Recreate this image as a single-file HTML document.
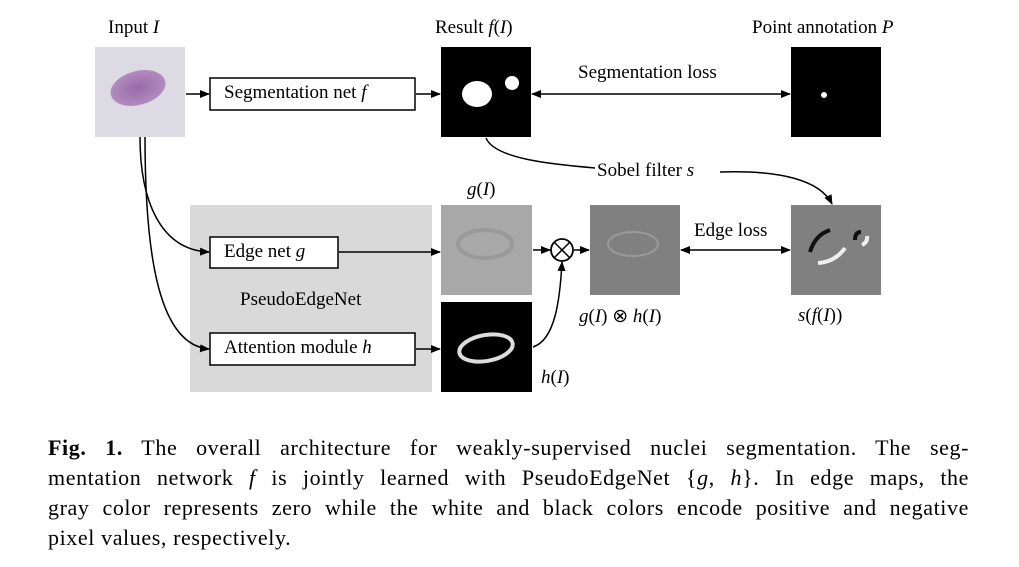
<!DOCTYPE html>
<html><head><meta charset="utf-8"><style>
body{margin:0;width:1019px;height:567px;background:#fff;position:relative;font-family:"Liberation Serif",serif;overflow:hidden}
.t{position:absolute;font-size:19px;color:#000;white-space:nowrap}
.cap{position:absolute;left:48px;top:433px;width:921px;font-size:22px;line-height:30px;letter-spacing:0.6px}
.cap div{text-align:justify;text-align-last:justify;white-space:nowrap;height:30px}
.cap div.l{text-align-last:left}
</style></head><body>
<svg width="1019" height="567" style="position:absolute;left:0;top:0">
<defs>
<marker id="a" markerWidth="10" markerHeight="8" refX="9" refY="4" orient="auto" markerUnits="userSpaceOnUse"><path d="M0,0 L10,4 L0,8z" fill="#000"/></marker>
<marker id="b" markerWidth="10" markerHeight="8" refX="1" refY="4" orient="auto" markerUnits="userSpaceOnUse"><path d="M10,0 L0,4 L10,8z" fill="#000"/></marker>
<radialGradient id="cell" cx="0.5" cy="0.5" r="0.5"><stop offset="0" stop-color="#9a6aa8"/><stop offset="1" stop-color="#b08cc0"/></radialGradient>
</defs>
<rect x="190" y="205" width="242" height="187" fill="#d9d9d9"/>
<rect x="95" y="47" width="90" height="90" fill="#dcdbe3"/>
<ellipse cx="138" cy="88" rx="28" ry="17" fill="url(#cell)" transform="rotate(-15 138 88)"/>
<rect x="441" y="47" width="90" height="90" fill="#000"/>
<ellipse cx="477" cy="94" rx="15" ry="13" fill="#fff"/>
<circle cx="512" cy="83" r="7" fill="#fff"/>
<rect x="791" y="47" width="90" height="90" fill="#000"/>
<circle cx="824" cy="95" r="3" fill="#fff"/>
<rect x="441" y="205" width="91" height="90" fill="#a8a8a8"/>
<ellipse cx="485" cy="244" rx="27" ry="14" fill="none" stroke="#999" stroke-width="4"/>
<rect x="441" y="302" width="91" height="90" fill="#000"/>
<ellipse cx="486" cy="348" rx="27" ry="13" fill="none" stroke="#ddd" stroke-width="4" transform="rotate(-10 486 348)"/>
<rect x="590" y="205" width="90" height="90" fill="#808080"/>
<ellipse cx="633" cy="244" rx="25" ry="12" fill="none" stroke="#999" stroke-width="2"/>
<rect x="791" y="205" width="90" height="90" fill="#808080"/>
<path d="M810,252 Q815,235 830,230" stroke="#111" stroke-width="4" fill="none"/>
<path d="M818,263 Q835,262 845,248" stroke="#eee" stroke-width="4" fill="none"/>
<path d="M855,240 Q855,232 861,232" stroke="#111" stroke-width="4" fill="none"/>
<path d="M862,245 Q868,242 867,236" stroke="#eee" stroke-width="4" fill="none"/>
<rect x="210" y="78" width="205" height="32" fill="#fff" stroke="#000" stroke-width="1.5"/>
<rect x="210" y="237" width="128" height="31" fill="#fff" stroke="#000" stroke-width="1.5"/>
<rect x="210" y="333" width="205" height="32" fill="#fff" stroke="#000" stroke-width="1.5"/>
<g stroke="#000" stroke-width="1.5" fill="none">
<line x1="186" y1="94" x2="209" y2="94" marker-end="url(#a)"/>
<line x1="416" y1="94" x2="440" y2="94" marker-end="url(#a)"/>
<line x1="532" y1="94" x2="790" y2="94" marker-start="url(#b)" marker-end="url(#a)"/>
<line x1="339" y1="252" x2="440" y2="252" marker-end="url(#a)"/>
<line x1="416" y1="349" x2="440" y2="349" marker-end="url(#a)"/>
<line x1="533" y1="250" x2="550" y2="250" marker-end="url(#a)"/>
<line x1="574" y1="250" x2="589" y2="250" marker-end="url(#a)"/>
<line x1="681" y1="250" x2="790" y2="250" marker-start="url(#b)" marker-end="url(#a)"/>
<path d="M140,137 C140,200 160,250 209,252" marker-end="url(#a)"/>
<path d="M145,137 C145,260 160,345 209,349" marker-end="url(#a)"/>
<path d="M533,347 C555,340 560,300 562,262" marker-end="url(#a)"/>
<path d="M486,138 C495,160 560,165 595,168"/>
<path d="M720,172 C780,170 820,180 832,204" marker-end="url(#a)"/>
<circle cx="562" cy="250" r="11" stroke-width="1.8"/>
<line x1="554" y1="242" x2="570" y2="258"/><line x1="570" y1="242" x2="554" y2="258"/>
</g>
</svg>
<div class="t" style="left:108px;top:17px">Input <i>I</i></div>
<div class="t" style="left:435px;top:17px">Result <i>f</i>(<i>I</i>)</div>
<div class="t" style="left:752px;top:17px">Point annotation <i>P</i></div>
<div class="t" style="left:224px;top:82px">Segmentation net <i>f</i></div>
<div class="t" style="left:578px;top:62px">Segmentation loss</div>
<div class="t" style="left:597px;top:160px">Sobel filter <i>s</i></div>
<div class="t" style="left:467px;top:179px"><i>g</i>(<i>I</i>)</div>
<div class="t" style="left:224px;top:241px">Edge net <i>g</i></div>
<div class="t" style="left:694px;top:220px">Edge loss</div>
<div class="t" style="left:240px;top:289px">PseudoEdgeNet</div>
<div class="t" style="left:579px;top:305px"><i>g</i>(<i>I</i>) ⊗ <i>h</i>(<i>I</i>)</div>
<div class="t" style="left:798px;top:305px"><i>s</i>(<i>f</i>(<i>I</i>))</div>
<div class="t" style="left:224px;top:337px">Attention module <i>h</i></div>
<div class="t" style="left:541px;top:367px"><i>h</i>(<i>I</i>)</div>
<div class="cap">
<div><b>Fig. 1.</b> The overall architecture for weakly-supervised nuclei segmentation. The seg-</div>
<div>mentation network <i>f</i> is jointly learned with PseudoEdgeNet {<i>g</i>, <i>h</i>}. In edge maps, the</div>
<div>gray color represents zero while the white and black colors encode positive and negative</div>
<div class="l">pixel values, respectively.</div>
</div>
</body></html>
